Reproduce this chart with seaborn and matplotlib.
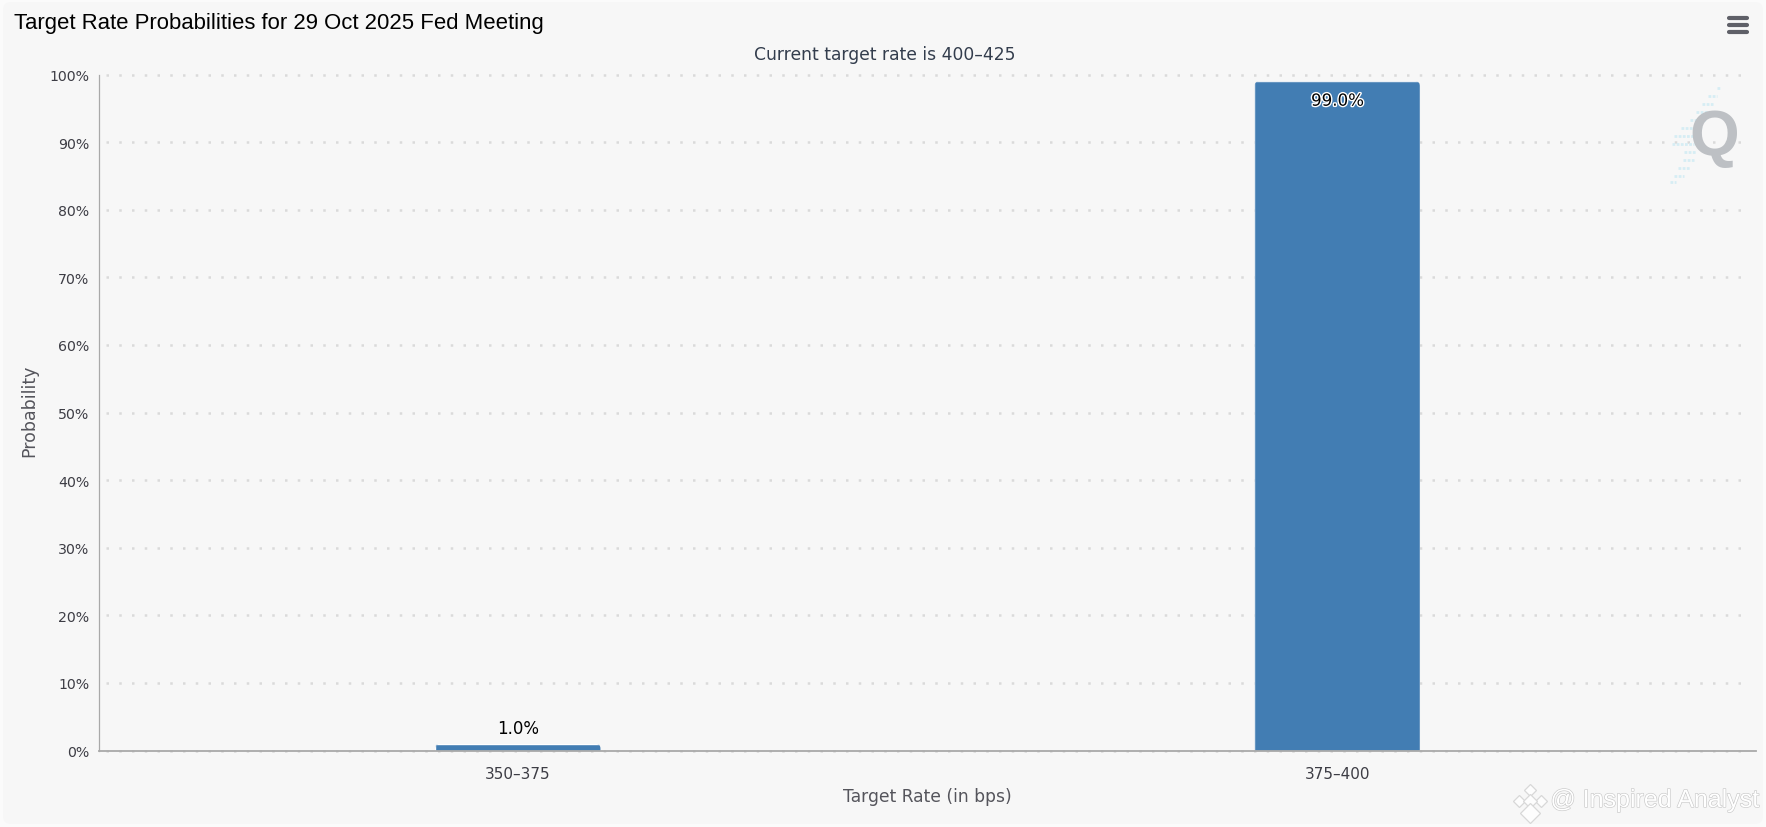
import matplotlib
matplotlib.use('Agg')
import matplotlib.pyplot as plt
import matplotlib.patheffects as pe
from matplotlib.patches import FancyBboxPatch
from matplotlib.transforms import IdentityTransform
import pandas as pd
import seaborn as sns

# Values
target_rates = ['350\u2013375', '375\u2013400']
probabilities = [1.0, 99.0]
y_ticks = [0, 10, 20, 30, 40, 50, 60, 70, 80, 90, 100]

W, H = 1766, 828
BG = '#f7f7f7'
BAR = '#427db3'
TEXT = '#3d3d45'

sns.set_theme(style='white')
plt.rcParams['font.family'] = ['DejaVu Sans']


def fx(px):
    return px / W


def fy(py):
    return 1 - py / H


df = pd.DataFrame({'rate': target_rates, 'prob': probabilities})

fig = plt.figure(figsize=(W / 100, H / 100), dpi=100, facecolor='#fbfbfb')
fig.patches.append(FancyBboxPatch((3, 3), W - 6, H - 6, boxstyle='round,pad=0,rounding_size=8',
                                  transform=IdentityTransform(), fc=BG, ec='none', zorder=-5))

# plot area in pixels: x 99-1756, y 75.5-751.5
ax = fig.add_axes([fx(99), fy(751.5), (1756 - 99) / W, (751.5 - 75.5) / H])
ax.set_facecolor('none')
sns.barplot(data=df, x='rate', y='prob', color=BAR, saturation=1, width=0.202, ax=ax, zorder=3)
ax.set_xlim(-0.511, 1.511)
ax.set_ylim(0, 100)

# dotted grid
ax.set_yticks(y_ticks)
ax.set_yticklabels([f'{v}%' for v in y_ticks])
ax.grid(False)
for v in y_ticks:
    ax.plot([0.004, 0.996], [v, v], transform=ax.get_yaxis_transform(), color='#dadada', lw=1.8,
            ls=(0, (1, 4.1)), clip_on=False, zorder=1)

for side in ['top', 'right']:
    ax.spines[side].set_visible(False)
ax.spines['left'].set_color('#a9a9a9')
ax.spines['left'].set_linewidth(0.9)
ax.spines['bottom'].set_color('#a9a9a9')
ax.spines['bottom'].set_linewidth(1.3)
ax.spines['bottom'].set_zorder(4)

ax.tick_params(axis='y', length=7, width=0.7, color='#c4c4c4', pad=0, labelsize=10.2, labelcolor=TEXT)
ax.tick_params(axis='x', length=10, width=0.7, color='#d0d0d0', pad=1, labelsize=11, labelcolor=TEXT)
ax.set_xlabel('')
ax.set_ylabel('')

# rounded top corners on the bars, data labels
fig.canvas.draw()
for bar, value in zip(ax.patches, probabilities):
    (x0, y0), (x1, y1) = ax.transData.transform([(bar.get_x(), 0), (bar.get_x() + bar.get_width(), value)])
    clip = FancyBboxPatch((x0, y0 - 10), x1 - x0, y1 - y0 + 10, boxstyle='round,pad=0,rounding_size=5',
                          transform=IdentityTransform())
    bar.set_clip_path(clip)
    xc = bar.get_x() + bar.get_width() / 2
    if value > 50:
        ax.annotate(f'{value:.1f}%', (xc, value), xytext=(0, -7.5), textcoords='offset points', ha='center', va='top',
                    fontsize=12, color='black', zorder=5,
                    path_effects=[pe.withStroke(linewidth=2, foreground='white')])
    else:
        ax.annotate(f'{value:.1f}%', (xc, value), xytext=(0, 4.5), textcoords='offset points', ha='center', va='bottom',
                    fontsize=12, color='black', zorder=5)

# titles and axis titles
fig.text(fx(14), fy(24), 'Target Rate Probabilities for 29 Oct 2025 Fed Meeting', family='Liberation Sans',
         fontsize=15.9, color='black', va='center', ha='left')
fig.text(fx(885), fy(54.5), 'Current target rate is 400\u2013425', fontsize=12.3, color='#333d4d', ha='center', va='center')
fig.text(fx(927), fy(797), 'Target Rate (in bps)', fontsize=12.3, color='#55555c', ha='center', va='center')
fig.text(fx(29), fy(411), 'Probability', fontsize=12.5, color='#55555c', ha='center', va='center', rotation=90)

# menu icon
for py in (19, 26, 33):
    fig.add_artist(plt.Line2D([fx(1729), fx(1747)], [fy(py), fy(py)], color='#5f6068', lw=3.0, solid_capstyle='round'))

# watermark logo: streaks then the Q
streaks = [(89, 1717, 1721), (97, 1708, 1717), (105, 1702, 1713), (113, 1696, 1708), (121, 1690, 1706),
           (129, 1681, 1702), (137, 1674, 1698), (145, 1672, 1694), (153, 1684, 1696), (161, 1683, 1694),
           (169, 1678, 1690), (177, 1674, 1684), (183, 1670, 1676)]
for py, x0, x1 in streaks:
    fig.add_artist(plt.Line2D([fx(x0), fx(x1)], [fy(py), fy(py)], color='#d6edf4', lw=2.0, ls=(0, (1, 0.5)), zorder=1))
fig.text(fx(1714), fy(139), 'Q', fontsize=46, fontweight='bold', family='Liberation Sans', color='#bdc0c4',
         ha='center', va='center', zorder=2)

# attribution watermark
shadow = [pe.withStroke(linewidth=0.9, foreground='#c8c8c8')]
fig.text(fx(1759), fy(801), '@ Inspired Analyst', fontsize=18, family='Liberation Sans', color='white', ha='right',
         va='center', path_effects=shadow, zorder=6)
logo = [(1530, 791, 6), (1519, 802, 6), (1541, 802, 6), (1530, 802, 7), (1530, 814, 10)]
for px, py, ms in logo:
    fig.add_artist(plt.Line2D([fx(px)], [fy(py)], marker='D', ms=ms, mfc='#fdfdfd', mec='#d8d8d8', mew=0.9, ls='none'))

fig.savefig('out.png', dpi=100, facecolor=fig.get_facecolor())
plt.close(fig)
